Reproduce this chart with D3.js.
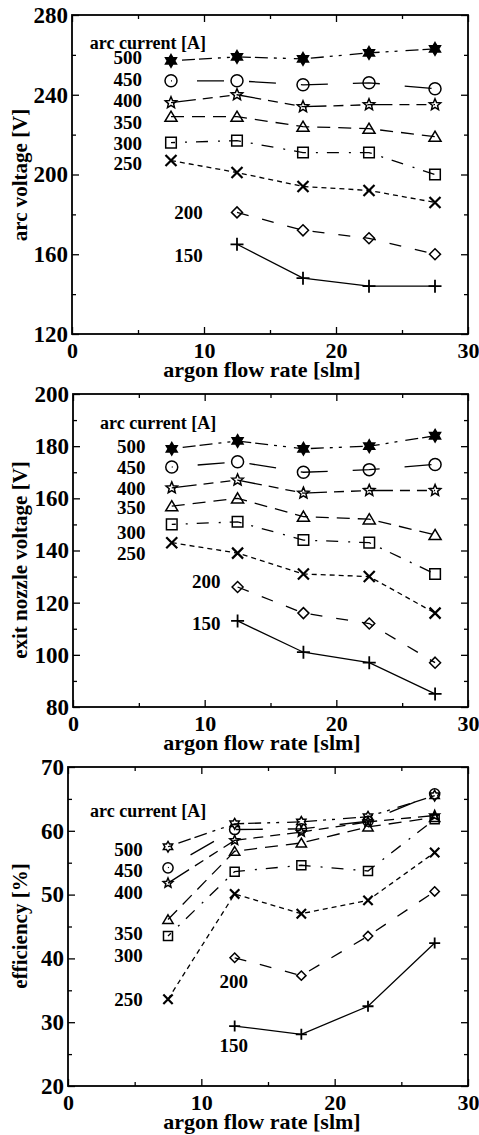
<!DOCTYPE html>
<html>
<head>
<meta charset="utf-8">
<script src="https://cdn.jsdelivr.net/npm/d3@7"></script>
<style>
    body { margin: 0; background: #fff; }
    svg text { font-family: "Liberation Serif", "Times New Roman", serif; font-weight: bold; fill: #000; }
</style>
</head>
<body>
<svg id="fig" width="479" height="1135"></svg>
<script>
// ---------------- data ----------------
const flowRate = [7.5, 12.5, 17.5, 22.5, 27.5];
const currents = [500, 450, 400, 350, 300, 250, 200, 150];

// rows follow `currents`, null = not measured
const arcVoltage = [
    [257, 259, 258, 261, 263],
    [247, 247, 245, 246, 243],
    [236, 240, 234, 235, 235],
    [229, 229, 224, 223, 219],
    [216, 217, 211, 211, 200],
    [207, 201, 194, 192, 186],
    [null, 181, 172, 168, 160],
    [null, 165, 148, 144, 144]
];
const nozzleVoltage = [
    [179, 182, 179, 180, 184],
    [172, 174, 170, 171, 173],
    [164, 167, 162, 163, 163],
    [157, 160, 153, 152, 146],
    [150, 151, 144, 143, 131],
    [143, 139, 131, 130, 116],
    [null, 126, 116, 112, 97],
    [null, 113, 101, 97, 85]
];
const efficiency = [
    [57.5, 61.1, 61.4, 62.2, 65.5],
    [54.2, 60.2, 60.3, 61.5, 65.8],
    [51.8, 58.5, 59.8, 61.4, 62.4],
    [46.1, 56.8, 58.1, 60.6, 62.1],
    [43.5, 53.6, 54.6, 53.7, 61.8],
    [33.6, 50.1, 47.0, 49.1, 56.6],
    [null, 40.1, 37.3, 43.5, 50.5],
    [null, 29.4, 28.1, 32.5, 42.4]
];

// tick labels
const xTicks = [0, 10, 20, 30];
const arcVoltageTicks = [120, 160, 200, 240, 280];
const nozzleVoltageTicks = [80, 100, 120, 140, 160, 180, 200];
const efficiencyTicks = [20, 30, 40, 50, 60, 70];

// ---------------- styles per series ----------------
const markers = ['hex', 'circle', 'star', 'triangle', 'square', 'x', 'diamond', 'plus'];
const dashes = [
    { a: '13,4,13,6,3,6,3,8', o: 45 },
    { a: '27,25', o: 26 },
    { a: '25,7,10,7,10,7', o: 0 },
    { a: '13,8', o: 0 },
    { a: '2,9,12,10', o: 19 },
    { a: '5,4', o: 0 },
    { a: '12,14', o: 0 },
    { a: null, o: 0 }
];

// panel layout (box in px, label positions in data units)
const panels = [
    {
        data: arcVoltage, yDomain: [120, 280], yTicks: arcVoltageTicks, yMinor: 20,
        box: { l: 72, r: 468, t: 15, b: 334 }, yTitle: 'arc voltage [V]', yTitleY: 175,
        head: [1.35, 266], labelX: [5.3, 5.3, 5.3, 5.3, 5.3, 5.3, 9.9, 9.9],
        labelY: [258.9, 247.9, 237.4, 226.3, 215.8, 205.8, 181.2, 159.6], small: false
    },
    {
        data: nozzleVoltage, yDomain: [80, 200], yTicks: nozzleVoltageTicks, yMinor: 10,
        box: { l: 73, r: 468, t: 394, b: 707 }, yTitle: 'exit nozzle voltage [V]', yTitleY: 560,
        head: [2.05, 188.9], labelX: [5.5, 5.5, 5.5, 5.5, 5.5, 5.5, 11.2, 11.2],
        labelY: [180, 172, 163.9, 156.6, 147, 139, 128.2, 112.1], small: false
    },
    {
        data: efficiency, yDomain: [20, 70], yTicks: efficiencyTicks, yMinor: 5,
        box: { l: 68, r: 468, t: 767, b: 1086 }, yTitle: 'efficiency [%]', yTitleY: 926,
        head: [1.65, 63.2], labelX: [5.6, 5.6, 5.6, 5.6, 5.6, 5.6, 13.5, 13.5],
        labelY: [57.1, 53.8, 50.4, 43.9, 40.5, 33.6, 36.4, 26.4], small: true
    }
];

// ---------------- marker shapes ----------------
function markerPath(type, k) {
    const p = d3.path();
    if (type === 'hex') {
        const r = 6.3 * k;
        for (let i = 0; i < 12; i++) {
            const ang = -Math.PI / 2 + i * Math.PI / 6;
            const rr = i % 2 === 0 ? r : r / Math.sqrt(3);
            i ? p.lineTo(rr * Math.cos(ang), rr * Math.sin(ang)) : p.moveTo(rr * Math.cos(ang), rr * Math.sin(ang));
        }
        p.closePath();
    } else if (type === 'circle') {
        p.arc(0, 0, 6 * k, 0, 2 * Math.PI);
    } else if (type === 'star') {
        const R = 6 * k, r = R * 0.45;
        for (let i = 0; i < 10; i++) {
            const ang = -Math.PI / 2 + i * Math.PI / 5;
            const rr = i % 2 === 0 ? R : r;
            i ? p.lineTo(rr * Math.cos(ang), rr * Math.sin(ang)) : p.moveTo(rr * Math.cos(ang), rr * Math.sin(ang));
        }
        p.closePath();
    } else if (type === 'triangle') {
        const h = 5.5 * k;
        p.moveTo(0, -h); p.lineTo(h * 1.1, h * 0.85); p.lineTo(-h * 1.1, h * 0.85); p.closePath();
    } else if (type === 'square') {
        const h = 5.3 * k;
        p.rect(-h, -h, 2 * h, 2 * h);
    } else if (type === 'x') {
        const h = 5.5 * k;
        p.moveTo(-h, -h); p.lineTo(h, h); p.moveTo(h, -h); p.lineTo(-h, h);
    } else if (type === 'diamond') {
        const h = 5.5 * k;
        p.moveTo(0, -h); p.lineTo(h, 0); p.lineTo(0, h); p.lineTo(-h, 0); p.closePath();
    } else if (type === 'plus') {
        const h = 6.5 * k;
        p.moveTo(-h, 0); p.lineTo(h, 0); p.moveTo(0, -h); p.lineTo(0, h);
    }
    return p.toString();
}

// ---------------- draw ----------------
const svg = d3.select('#fig');

panels.forEach(cfg => {
    const { l, r, t, b } = cfg.box;
    const x = d3.scaleLinear().domain([0, 30]).range([l, r]);
    const y = d3.scaleLinear().domain(cfg.yDomain).range([b, t]);
    const g = svg.append('g');

    const yMinorTicks = d3.range(cfg.yDomain[0], cfg.yDomain[1] + 0.01, cfg.yMinor)
        .filter(v => !cfg.yTicks.includes(v));
    const xMinorTicks = [5, 15, 25];

    // axes with inward ticks
    const addAxis = (axis, pos) => {
        const a = g.append('g').attr('transform', pos).call(axis);
        a.select('.domain').remove();
        a.selectAll('line').attr('stroke', '#000').attr('stroke-width', 1.3);
        return a;
    };
    const bottom = addAxis(d3.axisBottom(x).tickValues(xTicks).tickSize(-7).tickPadding(8), `translate(0,${b})`);
    bottom.selectAll('text').attr('font-size', 22).attr('fill', '#000')
        .style('font-family', '"Liberation Serif", serif').style('font-weight', 'bold');
    addAxis(d3.axisBottom(x).tickValues(xMinorTicks).tickSize(-4).tickFormat(''), `translate(0,${b})`);
    addAxis(d3.axisTop(x).tickValues(xTicks).tickSize(-7).tickFormat(''), `translate(0,${t})`);
    addAxis(d3.axisTop(x).tickValues(xMinorTicks).tickSize(-4).tickFormat(''), `translate(0,${t})`);

    const left = addAxis(d3.axisLeft(y).tickValues(cfg.yTicks).tickSize(-7).tickPadding(4), `translate(${l},0)`);
    left.selectAll('text').attr('font-size', 23).attr('fill', '#000')
        .style('font-family', '"Liberation Serif", serif').style('font-weight', 'bold');
    addAxis(d3.axisLeft(y).tickValues(yMinorTicks).tickSize(-4).tickFormat(''), `translate(${l},0)`);
    addAxis(d3.axisRight(y).tickValues(cfg.yTicks).tickSize(-7).tickFormat(''), `translate(${r},0)`);
    addAxis(d3.axisRight(y).tickValues(yMinorTicks).tickSize(-4).tickFormat(''), `translate(${r},0)`);

    // frame
    g.append('rect')
        .attr('x', l).attr('y', t).attr('width', r - l).attr('height', b - t)
        .attr('fill', 'none').attr('stroke', '#000').attr('stroke-width', 1.8);

    // axis titles
    g.append('text')
        .attr('x', 262).attr('y', b + 43)
        .attr('text-anchor', 'middle').attr('font-size', 22)
        .text('argon flow rate [slm]');
    g.append('text')
        .attr('transform', `translate(27,${cfg.yTitleY}) rotate(-90)`)
        .attr('text-anchor', 'middle').attr('font-size', 21)
        .text(cfg.yTitle);

    // legend labels
    g.append('text')
        .attr('x', x(cfg.head[0])).attr('y', y(cfg.head[1])).attr('dy', '0.35em')
        .attr('font-size', 18).text('arc current [A]');
    currents.forEach((c, i) => {
        g.append('text')
            .attr('x', x(cfg.labelX[i])).attr('y', y(cfg.labelY[i])).attr('dy', '0.35em')
            .attr('text-anchor', 'end').attr('font-size', 19).text(c);
    });

    // series lines
    const line = d3.line()
        .defined(d => d[1] !== null)
        .x(d => x(d[0])).y(d => y(d[1]));

    cfg.data.forEach((row, i) => {
        const pts = flowRate.map((f, j) => [f, row[j]]);
        g.append('path')
            .datum(pts)
            .attr('d', line)
            .attr('fill', 'none').attr('stroke', '#000').attr('stroke-width', 1.3)
            .attr('stroke-dasharray', dashes[i].a)
            .attr('stroke-dashoffset', dashes[i].o);
    });

    // markers
    const k = cfg.small ? 0.85 : 1;
    cfg.data.forEach((row, i) => {
        const type = markers[i];
        const filled = type === 'hex' && !cfg.small;
        g.selectAll(null)
            .data(flowRate.map((f, j) => [f, row[j]]).filter(d => d[1] !== null))
            .join('path')
            .attr('transform', d => `translate(${x(d[0])},${y(d[1])})`)
            .attr('d', markerPath(type, k))
            .attr('fill', filled ? '#000' : 'none')
            .attr('stroke', '#000')
            .attr('stroke-width', type === 'x' ? 2.2 : (type === 'plus' ? 1.8 : 1.5));
    });
});
</script>
</body>
</html>
